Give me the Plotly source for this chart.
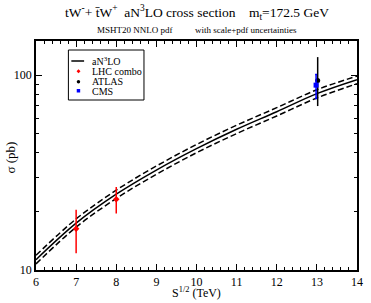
import plotly.graph_objects as go

# ---- data ----
sqrt_s = [6, 7, 8, 9, 10, 11, 12, 13, 14]
sigma_central = [11.3, 17.4, 24.5, 32.6, 42.0, 52.8, 65.0, 80.5, 95.0]
sigma_upper = [11.9, 18.3, 25.7, 34.2, 44.1, 55.4, 68.2, 84.3, 99.0]
sigma_lower = [10.75, 16.6, 23.3, 31.0, 40.0, 50.2, 61.8, 76.5, 90.5]

lhc_x = [7, 8]
lhc_y = [16.3, 23.1]
lhc_err = [4.1, 3.6]

atlas_x = [13.02]
atlas_y = [94.0]
atlas_err_plus = [30.0]
atlas_err_minus = [24.5]

cms_x = [12.98]
cms_y = [89.0]
cms_err_plus = [12.0]
cms_err_minus = [13.0]

x_ticks = [6, 7, 8, 9, 10, 11, 12, 13, 14]
y_ticks = [10, 100]
y_tick_text = ["10", "100"]
y_minor = [20, 30, 40, 50, 60, 70, 80, 90]

FONT = "Liberation Serif, Times New Roman, serif"
W, H = 371, 303
ML, MR, MT, MB = 36, 8, 41, 33
PW, PH = W - ML - MR, H - MT - MB

def px(x):
    return (x - ML) / PW

def py(y):
    return (H - MB - y) / PH

fig = go.Figure()
fig.add_trace(go.Scatter(x=sqrt_s, y=sigma_upper, mode="lines", line_shape="spline",
                         line=dict(color="black", width=1.5, dash="6px,3px"), showlegend=False))
fig.add_trace(go.Scatter(x=sqrt_s, y=sigma_lower, mode="lines", line_shape="spline",
                         line=dict(color="black", width=1.5, dash="6px,3px"), showlegend=False))
fig.add_trace(go.Scatter(x=sqrt_s, y=sigma_central, mode="lines", line_shape="spline",
                         line=dict(color="black", width=1.5), showlegend=False))
fig.add_trace(go.Scatter(x=lhc_x, y=lhc_y, mode="markers",
                         marker=dict(symbol="diamond", size=5, color="red"),
                         error_y=dict(type="data", array=lhc_err, color="red", thickness=1.5, width=0),
                         showlegend=False))
fig.add_trace(go.Scatter(x=atlas_x, y=atlas_y, mode="markers",
                         marker=dict(symbol="circle", size=5, color="black"),
                         error_y=dict(type="data", array=atlas_err_plus, arrayminus=atlas_err_minus,
                                      color="black", thickness=1.5, width=0),
                         showlegend=False))
fig.add_trace(go.Scatter(x=cms_x, y=cms_y, mode="markers",
                         marker=dict(symbol="square", size=5, color="blue"),
                         error_y=dict(type="data", array=cms_err_plus, arrayminus=cms_err_minus,
                                      color="blue", thickness=1.5, width=1),
                         showlegend=False))

# ---- hand-drawn legend ----
shapes = [
    dict(type="rect", xref="paper", yref="paper", x0=px(69), x1=px(146), y0=py(100), y1=py(50),
         line=dict(color="black", width=1), fillcolor="white", layer="above"),
    dict(type="line", xref="paper", yref="paper", x0=px(72), x1=px(85), y0=py(61), y1=py(61),
         line=dict(color="black", width=1.5), layer="above"),
    dict(type="rect", xref="paper", yref="paper", x0=px(77.5), x1=px(81), y0=py(92.5), y1=py(89),
         line=dict(width=0), fillcolor="blue", layer="above"),
    dict(type="circle", xref="paper", yref="paper", x0=px(77.5), x1=px(81), y0=py(83.5), y1=py(80),
         line=dict(width=0), fillcolor="black", layer="above"),
    dict(type="path", xref="paper", yref="paper",
         path=f"M {px(79.3)} {py(69.3)} L {px(81.3)} {py(71.3)} L {px(79.3)} {py(73.3)} L {px(77.3)} {py(71.3)} Z",
         line=dict(width=0), fillcolor="red", layer="above"),
]
legend_labels = ["aN<sup>3</sup>LO", "LHC combo", "ATLAS", "CMS"]
legend_y = [61, 71.5, 81.5, 91]
annotations = []
for lab, yy in zip(legend_labels, legend_y):
    annotations.append(dict(xref="paper", yref="paper", x=px(91), y=py(yy), text=lab,
                            showarrow=False, xanchor="left", yanchor="middle",
                            font=dict(family=FONT, size=10, color="black")))

annotations.append(dict(xref="paper", yref="paper", x=0.5, y=py(13), text=
                        "tW<sup>-</sup>+ t\u0304W<sup>+</sup>  aN<sup>3</sup>LO cross section    m<sub>t</sub>=172.5 GeV",
                        showarrow=False, xanchor="center", yanchor="middle",
                        font=dict(family=FONT, size=13.5, color="black")))
annotations.append(dict(xref="paper", yref="paper", x=0.5, y=py(30), text=
                        "MSHT20 NNLO pdf          with scale+pdf uncertainties",
                        showarrow=False, xanchor="center", yanchor="middle",
                        font=dict(family=FONT, size=9, color="black")))
annotations.append(dict(xref="paper", yref="paper", x=px(200), y=py(292), text=
                        "S<sup>1/2</sup> (TeV)",
                        showarrow=False, xanchor="center", yanchor="middle",
                        font=dict(family=FONT, size=12, color="black")))
annotations.append(dict(xref="paper", yref="paper", x=px(10), y=py(157), text="σ (pb)",
                        textangle=-90, showarrow=False, xanchor="center", yanchor="middle",
                        font=dict(family=FONT, size=13, color="black")))

fig.update_layout(
    width=W, height=H,
    margin=dict(l=ML, r=MR, t=MT, b=MB, pad=0),
    paper_bgcolor="white", plot_bgcolor="white",
    font=dict(family=FONT, size=12, color="black"),
    shapes=shapes, annotations=annotations,
    xaxis=dict(range=[6, 14], tickvals=x_ticks, ticks="inside",
               ticklen=6, tickwidth=1, tickcolor="black", showline=True, linecolor="black",
               linewidth=1.5, mirror="allticks", showgrid=False, zeroline=False,
               tickfont=dict(family=FONT, size=12),
               minor=dict(dtick=0.2, ticks="inside", ticklen=3, tickcolor="black", showgrid=False)),
    yaxis=dict(type="log", range=[1, 2.1761], tickvals=y_ticks, ticktext=y_tick_text,
               ticks="inside", ticklen=6, tickwidth=1, tickcolor="black", showline=True,
               linecolor="black", linewidth=1.5, mirror="allticks", showgrid=False, zeroline=False,
               tickfont=dict(family=FONT, size=12),
               minor=dict(tickvals=y_minor, ticks="inside", ticklen=3, tickcolor="black", showgrid=False)),
)

fig.write_html("out.html", config={"displayModeBar": False},
               post_script="document.body.style.margin='0';document.body.style.padding='0';")
